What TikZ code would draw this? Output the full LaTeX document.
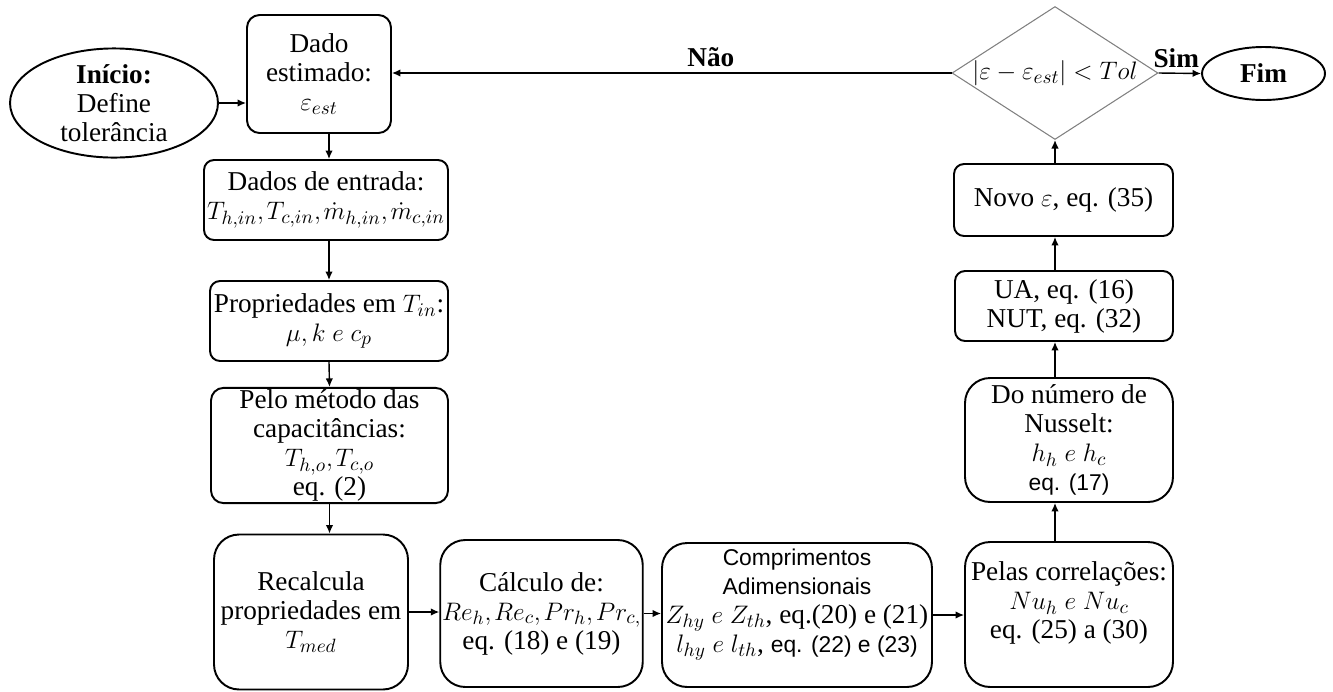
\documentclass[tikz,border=0pt]{standalone}
\usepackage{fontspec}
\setmainfont{Liberation Serif}
\setsansfont{Liberation Sans}
\usepackage{amsmath}
\usetikzlibrary{shapes.geometric, arrows.meta, calc}

\tikzset{
  proc/.style={draw, line width=1.1pt, rounded corners=0.25cm, align=center, inner sep=1pt},
  bigproc/.style={proc, rounded corners=0.5cm},
  term/.style={draw, line width=1.1pt, ellipse, align=center, inner sep=0pt},
  decision/.style={draw=gray, line width=0.6pt, diamond, inner sep=0pt},
  flow/.style={-{Latex[length=1.7mm,width=1.5mm]}, line width=0.8pt},
  lbl/.style={font=\fontsize{15.5}{16.5}\selectfont\bfseries, inner sep=3pt}
}
\newcommand{\sansq}[1]{{\sffamily\fontsize{13}{16.5}\selectfont #1}}
\newcommand{\cm}{{,}\mkern2mu}

\begin{document}
\begin{tikzpicture}[x=0.02cm, y=-0.02cm, font=\fontsize{15.5}{16.5}\selectfont]
  \useasboundingbox (0,0) rectangle (1333,691);

  % left column
  \node[term, minimum width=4.16cm, minimum height=1.7cm] (ini) at (114,103)
    {\textbf{Início:}\\Define\\tolerância};
  \node[proc, minimum width=2.88cm, minimum height=2.36cm] (dado) at (319,74)
    {Dado\\estimado:\\$\varepsilon_{est}$};
  \node[proc, rounded corners=0.2cm, minimum width=4.88cm, minimum height=1.6cm] (ent) at (326,200)
    {Dados de entrada:\\$T_{h,in}\cm T_{c,in}\cm \dot{m}_{h,in}\cm \dot{m}_{c,in}$};
  \node[proc, rounded corners=0.2cm, minimum width=4.76cm, minimum height=1.6cm] (prop) at (329,321)
    {Propriedades em $T_{in}$:\\$\mu, k\ e\ c_p$};
  \node[proc, minimum width=4.74cm, minimum height=2.26cm] (cap) at (329.5,445.5)
    {Pelo método das\\capacitâncias:\\$T_{h,o}\cm T_{c,o}$\\eq. (2)};

  % bottom row
  \node[bigproc, minimum width=3.88cm, minimum height=3.1cm] (rec) at (311,612)
    {Recalcula\\propriedades em\\$T_{med}$};
  \node[bigproc, minimum width=3.9cm, minimum height=2.94cm] (calc) at (541.5,613.5)
    {Cálculo de:\\$Re_h\cm Re_c\cm Pr_h\cm Pr_{c,}$\\eq. (18) e (19)};
  \node[bigproc, minimum width=5.4cm, minimum height=2.88cm] (comp) at (797,615)
    {\sansq{Comprimentos}\\\sansq{Adimensionais}\\$Z_{hy}\ e\ Z_{th}$, eq.(20) e (21)\\$l_{hy}\ e\ l_{th}$, \sansq{eq. (22) e (23)}\\\mbox{}};
  \node[bigproc, minimum width=4.16cm, minimum height=2.9cm] (pelas) at (1069,614.5)
    {Pelas correlações:\\$Nu_h\ e\ Nu_c$\\eq. (25) a (30)\\\mbox{}};

  % right column
  \node[bigproc, minimum width=4.16cm, minimum height=2.48cm] (nus) at (1069,440)
    {Do número de\\Nusselt:\\$h_h\ e\ h_c$\\\sansq{eq. (17)}};
  \node[proc, rounded corners=0.2cm, minimum width=4.36cm, minimum height=1.4cm] (ua) at (1064,306)
    {UA, eq. (16)\\NUT, eq. (32)};
  \node[proc, rounded corners=0.2cm, minimum width=4.38cm, minimum height=1.44cm] (novo) at (1063.5,200)
    {Novo $\varepsilon$, eq. (35)};
  \node[decision, minimum width=4.12cm, minimum height=2.66cm] (dec) at (1055,73)
    {\makebox[0pt]{$|\varepsilon-\varepsilon_{est}|<Tol$}};
  \node[term, minimum width=2.46cm, minimum height=1.06cm] (fim) at (1263.5,73.5)
    {\textbf{Fim}};

  % connectors
  \draw[flow] (ini.east) -- (ini.east -| dado.west);
  \draw[flow] (dado.south -| prop.north) -- (ent.north -| prop.north);
  \draw[flow] (ent.south -| prop.north) -- (prop.north);
  \draw[flow] (prop.south) -- (cap.north);
  \draw[flow] (cap.south) -- (cap.south |- rec.north);
  \draw[flow] (rec.east) -- (rec.east -| calc.west);
  \draw[flow] (calc.east) -- (calc.east -| comp.west);
  \draw[flow] (comp.east) -- (comp.east -| pelas.west);
  \draw[flow] (pelas.north -| dec) -- (nus.south -| dec);
  \draw[flow] (nus.north -| dec) -- (ua.south -| dec);
  \draw[flow] (ua.north -| dec) -- (novo.south -| dec);
  \draw[flow] (novo.north -| dec) -- (dec.south);
  \draw[flow] (dec.east) -- node[lbl, above, xshift=-2pt]{Sim} (fim.west);
  \draw[flow] (dec.west) -- node[lbl, above, pos=0.43]{Não} (dec.west -| dado.east);
\end{tikzpicture}
\end{document}
